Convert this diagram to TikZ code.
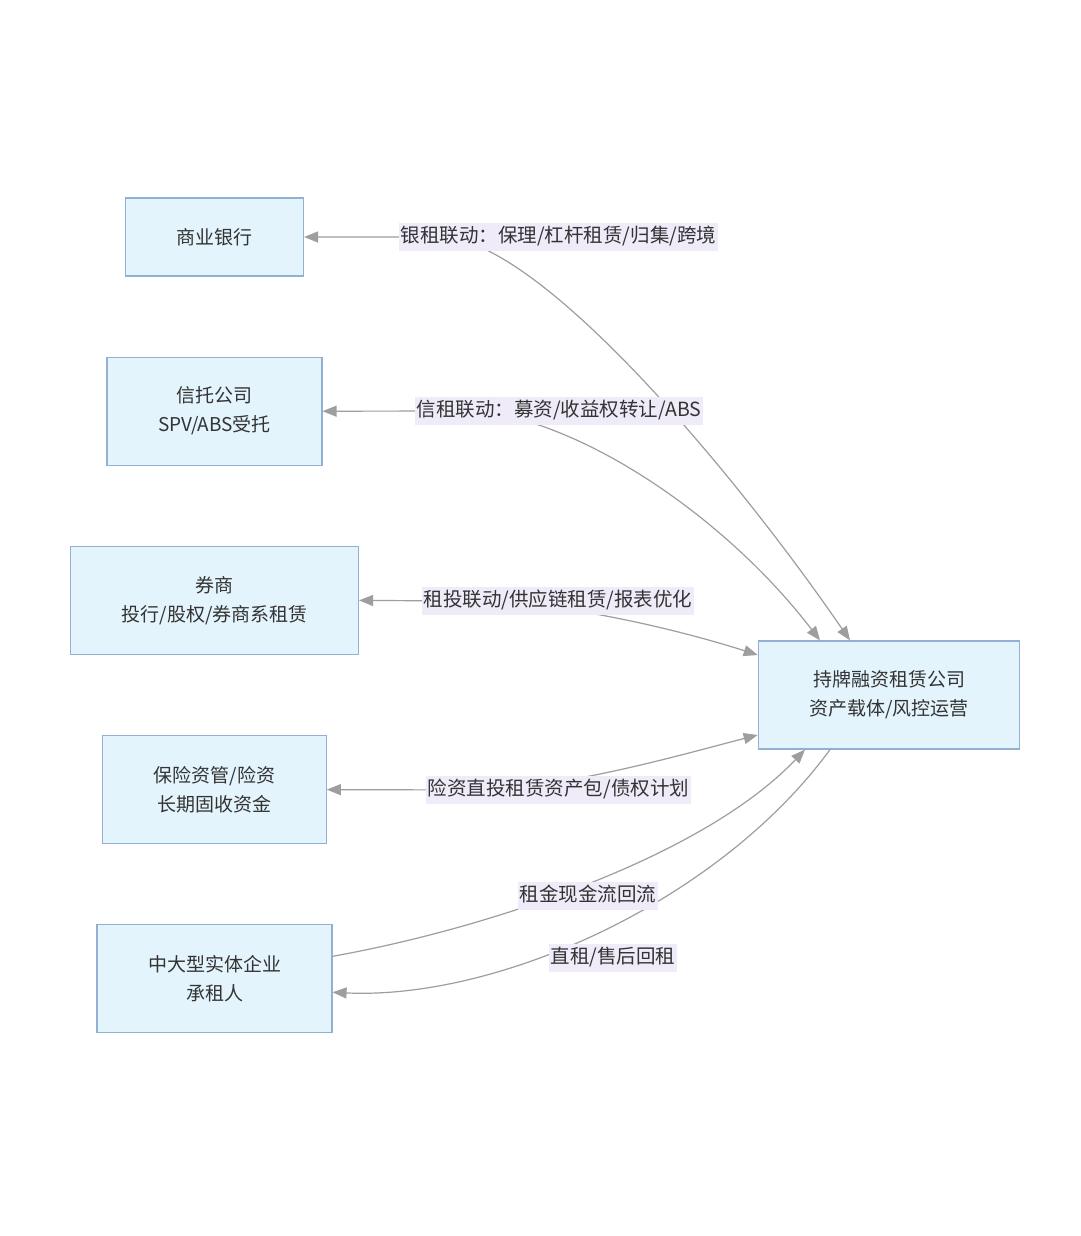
\documentclass[tikz,border=0pt]{standalone}
\usepackage{fontspec}
\setmainfont{Noto Sans CJK SC}
\usetikzlibrary{positioning,arrows.meta}
\definecolor{cajaFondo}{HTML}{E4F4FC}
\definecolor{cajaBorde}{HTML}{92B0D2}
\definecolor{flujoGris}{HTML}{9E9E9E}
\definecolor{etiqFondo}{HTML}{EFEBF9}
\definecolor{texto}{HTML}{333333}
\tikzset{
	entidad/.style={draw=cajaBorde,fill=cajaFondo,line width=1.2pt,align=center,
		inner xsep=51pt,inner ysep=0pt,minimum height=78pt,text=texto,
		font=\fontsize{19}{29}\selectfont},
	flujo/.style={draw=flujoGris,line width=1.2pt,>={Triangle[length=14pt,width=11pt]}},
	etiqueta/.style={fill=etiqFondo,text=texto,inner xsep=2pt,inner ysep=4.5pt,
		text height=15.5pt,text depth=4pt,font=\fontsize{19.5}{23}\selectfont}
}
\begin{document}
\begin{tikzpicture}[x=1pt,y=-1pt]
\fill[white] (0,0) rectangle (1080,1236);
% entidades
\node[entidad] (bank) at (214.5,237) {商业银行};
\node[entidad,minimum height=108pt,below=80pt of bank] (trust) {信托公司\\SPV/ABS受托};
\node[entidad,minimum height=108pt,below=80pt of trust] (broker) {券商\\投行/股权/券商系租赁};
\node[entidad,minimum height=108pt,below=80pt of broker] (insurer) {保险资管/险资\\长期固收资金};
\node[entidad,minimum height=108pt,below=80pt of insurer] (lessee) {中大型实体企业\\承租人};
\node[entidad,minimum height=108pt] (lessor) at (889,695) {持牌融资租赁公司\\资产载体/风控运营};
% flujos
\draw[flujo,<->] (bank.east) -- (440,237) .. controls (540,237) and (740,480) .. ([xshift=-39pt]lessor.north);
\draw[flujo,<->] (trust.east) -- (470,411) .. controls (570,415) and (720,510) .. ([xshift=-69pt]lessor.north);
\draw[flujo,<->] (broker.east) -- (470,601) .. controls (560,601) and (680,630) .. ([yshift=40pt]lessor.west);
\draw[flujo,<->] (insurer.east) -- (470,790) .. controls (560,790) and (680,755) .. ([yshift=-40pt]lessor.west);
\draw[flujo,->] ([yshift=22.5pt]lessee.east) .. controls (480,930) and (700,860) .. ([xshift=-84pt]lessor.south);
\draw[flujo,->] ([xshift=-59pt]lessor.south) .. controls (720,900) and (500,1000) .. ([yshift=-13.5pt]lessee.east);
% etiquetas
\foreach \Xc/\Yc/\Texto [count=\i] in
{558.5/237/{银租联动：保理/杠杆租赁/归集/跨境},
 559/411/{信租联动：募资/收益权转让/ABS},
 558/601/{租投联动/供应链租赁/报表优化},
 558.5/790/{险资直投租赁资产包/债权计划},
 588/896/{租金现金流回流},
 613/958/{直租/售后回租}}
{
	\node[etiqueta] (l\i) at (\Xc,\Yc) {\Texto};
}
\end{tikzpicture}
\end{document}
